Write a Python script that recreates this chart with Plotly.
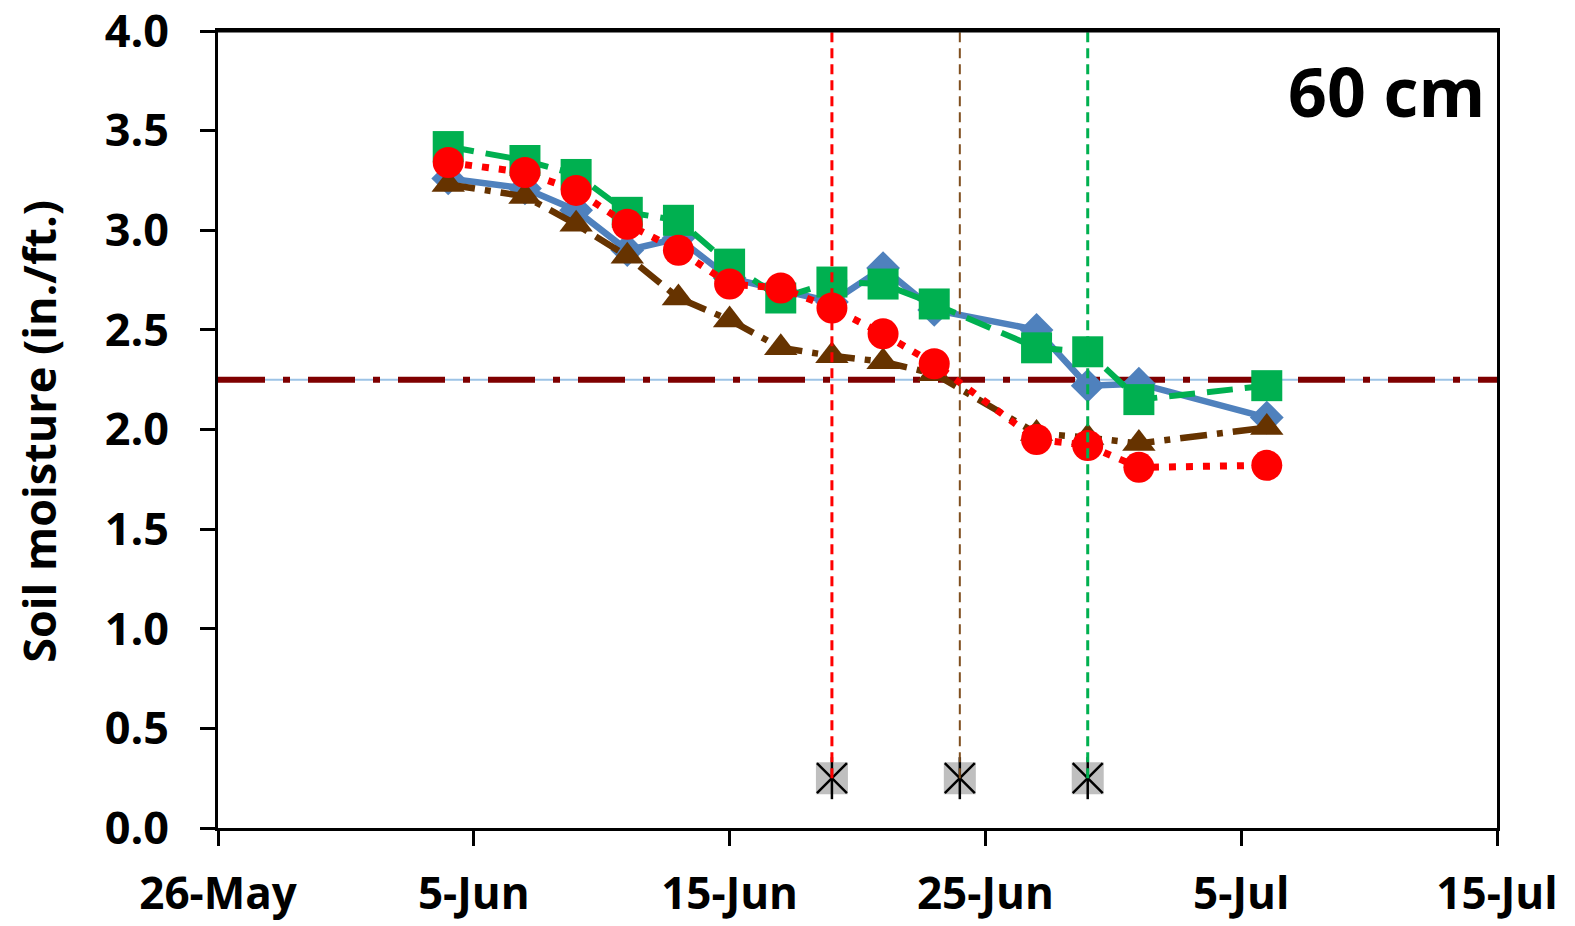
import plotly.graph_objects as go

# ---------------- data ----------------
dates = ["2023-06-04", "2023-06-07", "2023-06-09", "2023-06-11", "2023-06-13",
         "2023-06-15", "2023-06-17", "2023-06-19", "2023-06-21", "2023-06-23",
         "2023-06-27", "2023-06-29", "2023-07-01", "2023-07-06"]
blue_vals = [3.26, 3.21, 3.10, 2.90, 2.96, 2.76, 2.70, 2.64, 2.81, 2.60, 2.50, 2.22, 2.23, 2.06]
green_vals = [3.42, 3.35, 3.28, 3.09, 3.05, 2.83, 2.66, 2.74, 2.73, 2.63, 2.41, 2.39, 2.15, 2.22]
brown_vals = [3.23, 3.17, 3.03, 2.87, 2.66, 2.55, 2.41, 2.37, 2.34, 2.28, 1.98, 1.96, 1.93, 2.01]
red_vals = [3.34, 3.29, 3.20, 3.03, 2.90, 2.73, 2.71, 2.61, 2.48, 2.33, 1.95, 1.92, 1.81, 1.82]

event_dates = ["2023-06-19", "2023-06-24", "2023-06-29"]
event_colors = ["#FF0000", "#7F4F1F", "#00B050"]
event_level = 0.25
y_top = 4.0

threshold = 2.25
x_range = ["2023-05-26", "2023-07-15"]

x_tickvals = ["2023-05-26", "2023-06-05", "2023-06-15", "2023-06-25", "2023-07-05", "2023-07-15"]
x_ticktext = ["26-May", "5-Jun", "15-Jun", "25-Jun", "5-Jul", "15-Jul"]
y_tickvals = [0.0, 0.5, 1.0, 1.5, 2.0, 2.5, 3.0, 3.5, 4.0]

FONT = "Open Sans"

fig = go.Figure()

# threshold line: thin light-blue base + dark red dash-dot
fig.add_trace(go.Scatter(x=x_range, y=[threshold, threshold], mode="lines",
                         line=dict(color="#9DC3E6", width=2), hoverinfo="skip", showlegend=False))
fig.add_trace(go.Scatter(x=x_range, y=[threshold, threshold], mode="lines",
                         line=dict(color="#7F0000", width=6, dash="47px,18px,7px,18px"),
                         hoverinfo="skip", showlegend=False))

# series
fig.add_trace(go.Scatter(x=dates, y=blue_vals, mode="lines+markers",
                         line=dict(color="#4F81BD", width=6.5),
                         marker=dict(symbol="diamond", size=26, color="#4F81BD"),
                         showlegend=False))
fig.add_trace(go.Scatter(x=dates, y=green_vals, mode="lines+markers",
                         line=dict(color="#00B050", width=6, dash="26px,12px"),
                         marker=dict(symbol="square", size=31, color="#00B050"),
                         showlegend=False))
fig.add_trace(go.Scatter(x=dates, y=brown_vals, mode="lines+markers",
                         line=dict(color="#663300", width=6.5, dash="27px,10px,6px,10px"),
                         marker=dict(symbol="triangle-up", size=29, color="#663300"),
                         showlegend=False))
fig.add_trace(go.Scatter(x=dates, y=red_vals, mode="lines+markers",
                         line=dict(color="#FF0000", width=7, dash="7px,10px"),
                         marker=dict(symbol="circle", size=31, color="#FF0000"),
                         showlegend=False))

# event markers (gray square with star)
fig.add_trace(go.Scatter(x=event_dates, y=[event_level] * len(event_dates), mode="markers",
                         marker=dict(symbol="square", size=32, color="#BFBFBF"),
                         showlegend=False, hoverinfo="skip"))
fig.add_trace(go.Scatter(x=event_dates, y=[event_level] * len(event_dates), mode="markers",
                         marker=dict(symbol="x-thin-open", size=30, color="black",
                                     line=dict(color="black", width=2.5)),
                         showlegend=False, hoverinfo="skip"))
fig.add_trace(go.Scatter(x=event_dates, y=[event_level] * len(event_dates), mode="markers",
                         marker=dict(symbol="line-ns-open", size=30, color="black",
                                     line=dict(color="black", width=2.5)),
                         showlegend=False, hoverinfo="skip"))

# vertical event lines
widths = [3, 2, 3]
for d, c, w in zip(event_dates, event_colors, widths):
    fig.add_trace(go.Scatter(x=[d, d], y=[event_level, y_top], mode="lines",
                             line=dict(color=c, width=w, dash="10px,6px"),
                             showlegend=False, hoverinfo="skip"))

fig.add_annotation(text="<b>60 cm</b>", x=0.992, y=0.925, xref="paper", yref="paper",
                   xanchor="right", yanchor="middle", showarrow=False,
                   font=dict(family=FONT, size=68, color="black"))

# y-axis title
fig.add_annotation(text="<b>Soil moisture (in./ft.)</b>", x=-0.1405, y=0.4975,
                   xref="paper", yref="paper", xanchor="center", yanchor="middle",
                   textangle=-90, showarrow=False,
                   font=dict(family=FONT, size=45, color="black"))

# top border of the plot frame
fig.add_shape(type="line", xref="paper", yref="paper", x0=0, x1=1, y0=1, y1=1,
              line=dict(color="black", width=3))

fig.update_layout(
    width=1575, height=926,
    margin=dict(l=218, r=78, t=31, b=98),
    paper_bgcolor="white", plot_bgcolor="white",
    font=dict(family=FONT, color="black"),
    showlegend=False,
)
fig.update_xaxes(
    type="date", range=x_range, tickvals=x_tickvals, ticktext=x_ticktext,
    showgrid=False, zeroline=False, automargin=False,
    showline=True, linecolor="black", linewidth=3, mirror=True,
    ticks="outside", ticklen=15, tickwidth=2.5, tickcolor="black",
    tickfont=dict(family=FONT, size=44, color="black", weight="bold"),
    ticklabelstandoff=10, ticklabeloverflow="allow",
)
fig.update_yaxes(
    range=[0, 4.0], tickvals=y_tickvals, tickformat=".1f",
    showgrid=False, zeroline=False, automargin=False,
    showline=True, linecolor="black", linewidth=3, mirror=True,
    ticks="outside", ticklen=15, tickwidth=2.5, tickcolor="black",
    tickfont=dict(family=FONT, size=45, color="black", weight="bold"),
    ticklabelstandoff=22, ticklabeloverflow="allow",
)

fig.write_html("out.html")
